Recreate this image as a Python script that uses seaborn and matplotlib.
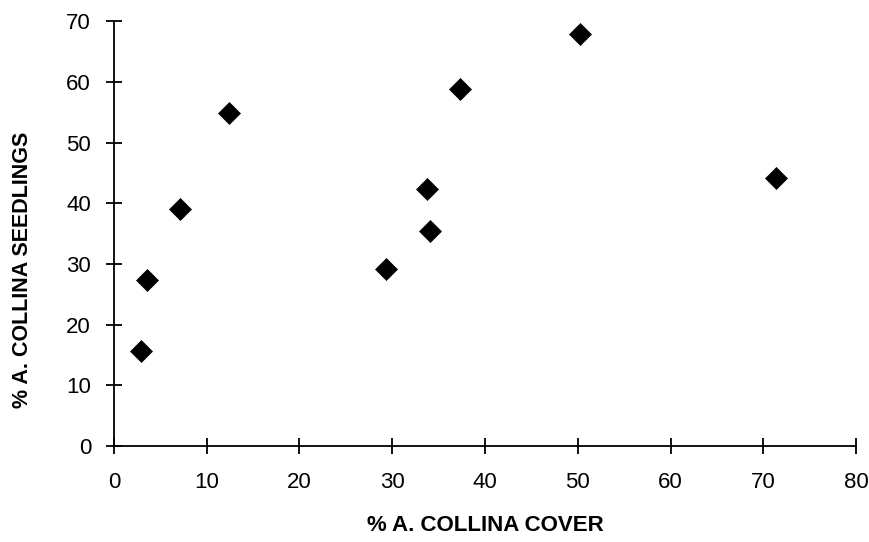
import matplotlib
matplotlib.use("Agg")
import matplotlib.pyplot as plt
import seaborn as sns
import pandas as pd

# values
cover = [2.9, 3.6, 7.1, 12.4, 29.3, 33.7, 34.1, 37.3, 50.2, 71.4]
seedlings = [15.7, 27.3, 39.0, 54.9, 29.2, 42.3, 35.4, 58.8, 67.9, 44.1]
x_ticks = [0, 10, 20, 30, 40, 50, 60, 70, 80]
y_ticks = [0, 10, 20, 30, 40, 50, 60, 70]

df = pd.DataFrame({"cover": cover, "seedlings": seedlings})

sns.set_style("ticks")
plt.rcParams["font.family"] = ["Liberation Sans", "DejaVu Sans"]

fig = plt.figure(figsize=(8.7, 5.42), dpi=100)
ax = fig.add_axes([0.131, 0.177, 0.853, 0.784])

sns.scatterplot(data=df, x="cover", y="seedlings", marker="D", s=125,
                color="black", edgecolor="black", linewidth=0.5, ax=ax)

ax.set_xlim(0, 80)
ax.set_ylim(0, 70)
ax.set_xticks(x_ticks)
ax.set_yticks(y_ticks)
ax.tick_params(direction="inout", length=11, width=1.3, labelsize=16,
               colors="black")
ax.tick_params(axis="x", pad=13)
ax.tick_params(axis="y", pad=11)
for side in ["top", "right"]:
    ax.spines[side].set_visible(False)
for side in ["left", "bottom"]:
    ax.spines[side].set_color("black")
    ax.spines[side].set_linewidth(1.3)

ax.set_xlabel("% A. COLLINA COVER", fontsize=16, fontweight="bold",
              color="black", labelpad=16)
ax.set_ylabel("% A. COLLINA SEEDLINGS", fontsize=15.5, fontweight="bold",
              color="black")
ax.yaxis.set_label_coords(-0.109, 0.414)

fig.savefig("out.png", dpi=100)
